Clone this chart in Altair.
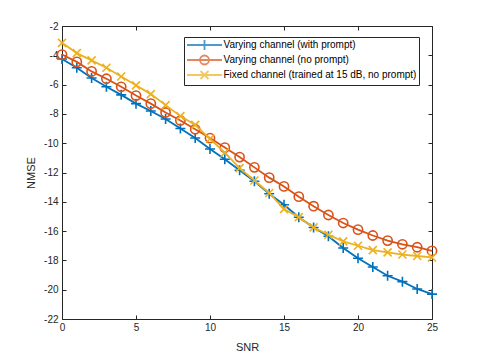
import altair as alt
import pandas as pd

# ---- data ----
snr = list(range(26))
with_prompt = [-4.25, -4.85, -5.55, -6.15, -6.7, -7.3, -7.8, -8.35, -9.0, -9.65,
               -10.4, -11.1, -11.85, -12.6, -13.45, -14.2, -15.05, -15.75, -16.35, -17.15,
               -17.85, -18.45, -19.05, -19.45, -19.95, -20.3]
no_prompt = [-3.95, -4.45, -5.1, -5.6, -6.15, -6.75, -7.3, -7.9, -8.45, -9.05,
             -9.65, -10.3, -10.95, -11.65, -12.35, -12.95, -13.65, -14.3, -14.9, -15.45,
             -15.9, -16.3, -16.65, -16.9, -17.1, -17.35]
fixed = [-3.15, -3.85, -4.35, -4.85, -5.45, -6.05, -6.65, -7.4, -8.15, -8.75,
         -9.7, -10.65, -11.7, -12.55, -13.4, -14.5, -15.05, -15.75, -16.25, -16.7,
         -17.0, -17.3, -17.45, -17.6, -17.7, -17.8]
series_names = ["Varying channel (with prompt)",
                "Varying channel (no prompt)",
                "Fixed channel (trained at 15 dB, no prompt)"]
colors = ["#0072BD", "#D95319", "#EDB120"]
x_ticks = [0, 5, 10, 15, 20, 25]
y_ticks = list(range(-22, -1, 2))

rows = []
for name, vals in zip(series_names, [with_prompt, no_prompt, fixed]):
    for s, v in zip(snr, vals):
        rows.append({"SNR": s, "NMSE": v, "series": name})
df = pd.DataFrame(rows)

FONT = "Liberation Sans"
AX = "#262626"

PLUS = "M-1,0L1,0M0,-1L0,1"
XMARK = "M-0.8,-0.8L0.8,0.8M-0.8,0.8L0.8,-0.8"
marker_shapes = [PLUS, "circle", XMARK]
marker_sizes = [100, 85, 100]
LEG_LINE = "M-3.5,0L3.5,0"
legend_shapes = [LEG_LINE + PLUS,
                 LEG_LINE + "M0.9,0A0.9,0.9 0 1,1 -0.9,0A0.9,0.9 0 1,1 0.9,0",
                 LEG_LINE + XMARK]

xs = alt.Scale(domain=[0, 25], nice=False, zero=False)
ys = alt.Scale(domain=[-22, -2], nice=False, zero=False)

lab_common = dict(grid=False, domain=False, ticks=False, tickSize=0,
                  labelFont=FONT, labelFontSize=10, labelColor=AX,
                  titleFont=FONT, titleFontSize=11, titleColor=AX,
                  titleFontWeight="normal", labelOverlap=False, labelFlush=False,
                  labelExpr="'' + datum.value")
x_lab = alt.Axis(values=x_ticks, title="SNR", labelPadding=3, titlePadding=9, **lab_common)
y_lab = alt.Axis(values=y_ticks, title="NMSE", labelPadding=4, titlePadding=7, **lab_common)

def tick_axis(values, orient):
    return alt.Axis(values=values, orient=orient, labels=False, domain=False, ticks=True,
                    tickSize=4, offset=-4, tickColor=AX, tickWidth=1, grid=False, title=None)

def X(axis=None):
    return alt.X("SNR:Q", scale=xs, axis=axis)

def Y(axis=None):
    return alt.Y("NMSE:Q", scale=ys, axis=axis)

base = alt.Chart(df)

# legend-only layer (no visible marks) also carrying the labelled axes
legend_layer = base.transform_filter("datum.SNR < -100").mark_point(
    filled=False, strokeWidth=1.8
).encode(
    x=X(x_lab), y=Y(y_lab),
    color=alt.Color("series:N", scale=alt.Scale(domain=series_names, range=colors),
                    legend=alt.Legend(title=None)),
    shape=alt.Shape("series:N", scale=alt.Scale(domain=series_names, range=legend_shapes),
                    legend=alt.Legend(title=None)),
)

layers = [legend_layer]
for i, (name, col, shp, sz) in enumerate(zip(series_names, colors, marker_shapes, marker_sizes)):
    sub = base.transform_filter(alt.datum.series == name)
    if i == 0:
        lx, ly = tick_axis(x_ticks, "bottom"), tick_axis(y_ticks, "left")
        px, py = tick_axis(x_ticks, "top"), tick_axis(y_ticks, "right")
    else:
        lx = ly = px = py = None
    line = sub.mark_line(color=col, strokeWidth=1.8).encode(x=X(lx), y=Y(ly))
    pts = sub.mark_point(shape=shp, size=sz, color=col, filled=False, strokeWidth=1.6,
                         opacity=1).encode(x=X(px), y=Y(py))
    layers += [line, pts]

chart = alt.layer(*layers).resolve_axis(x="independent", y="independent").properties(
    width=370, height=293,
    autosize=alt.AutoSizeParams(type="none"),
    padding={"left": 54, "top": 18, "right": 30, "bottom": 32},
    background="white",
).configure_view(stroke=AX, strokeWidth=1).configure_legend(
    orient="none", legendX=122, legendY=11,
    fillColor="white", strokeColor=AX, padding=2, cornerRadius=0,
    symbolSize=100, symbolStrokeWidth=1.8, symbolOffset=12.5, labelOffset=13,
    symbolFillColor="transparent",
    labelFont=FONT, labelFontSize=10, labelColor="#000000", rowPadding=-4.5,
    labelLimit=400,
)

chart.save("out.html", embed_options={"renderer": "svg", "actions": False})
